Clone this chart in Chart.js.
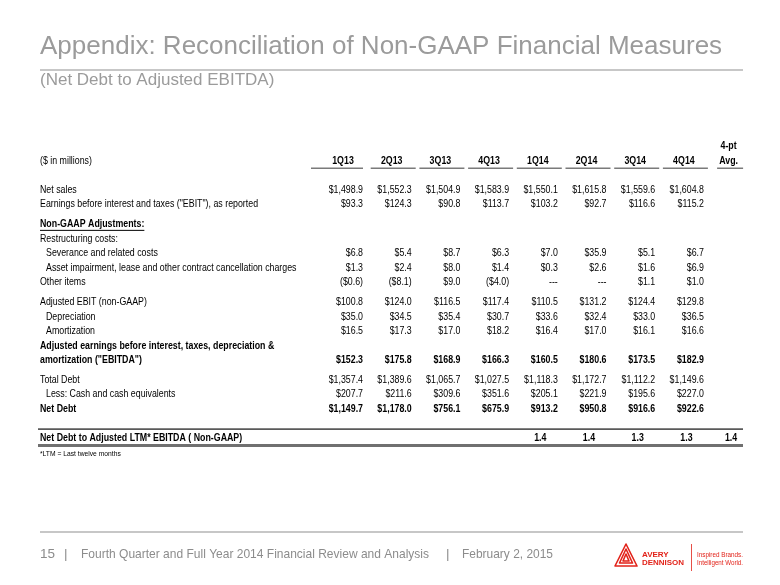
<!DOCTYPE html>
<html><head><meta charset="utf-8">
<script src="https://cdn.jsdelivr.net/npm/chart.js@4.4.1/dist/chart.umd.min.js"></script>
<style>html,body{margin:0;padding:0;background:#fff;}canvas{display:block;}</style>
</head><body>
<canvas id="c" width="780" height="585"></canvas>
<script>
// ---- data ----
const quarters = ['1Q13','2Q13','3Q13','4Q13','1Q14','2Q14','3Q14','4Q14'];
const avgLabel = '4-pt Avg.';
const netSales = [1498.9,1552.3,1504.9,1583.9,1550.1,1615.8,1559.6,1604.8];
const ebitReported = [93.3,124.3,90.8,113.7,103.2,92.7,116.6,115.2];
const severance = [6.8,5.4,8.7,6.3,7.0,35.9,5.1,6.7];
const assetImpairment = [1.3,2.4,8.0,1.4,0.3,2.6,1.6,6.9];
const otherItems = [-0.6,-8.1,9.0,-4.0,null,null,1.1,1.0];
const adjustedEbit = [100.8,124.0,116.5,117.4,110.5,131.2,124.4,129.8];
const depreciation = [35.0,34.5,35.4,30.7,33.6,32.4,33.0,36.5];
const amortization = [16.5,17.3,17.0,18.2,16.4,17.0,16.1,16.6];
const adjustedEbitda = [152.3,175.8,168.9,166.3,160.5,180.6,173.5,182.9];
const totalDebt = [1357.4,1389.6,1065.7,1027.5,1118.3,1172.7,1112.2,1149.6];
const cashEquivalents = [207.7,211.6,309.6,351.6,205.1,221.9,195.6,227.0];
const netDebt = [1149.7,1178.0,756.1,675.9,913.2,950.8,916.6,922.6];
const netDebtToEbitda = [null,null,null,null,1.4,1.4,1.3,1.3];
const netDebtToEbitdaAvg = 1.4;

// ---- table structure ----
const sections = [
  [ {label:'Net sales', values:netSales},
    {label:'Earnings before interest and taxes ("EBIT"), as reported', values:ebitReported} ],
  [ {label:'Non-GAAP Adjustments:', bold:true, underline:true},
    {label:'Restructuring costs:'},
    {label:'Severance and related costs', indent:true, values:severance},
    {label:'Asset impairment, lease and other contract cancellation charges', indent:true, values:assetImpairment},
    {label:'Other items', values:otherItems} ],
  [ {label:'Adjusted EBIT (non-GAAP)', values:adjustedEbit},
    {label:'Depreciation', indent:true, values:depreciation},
    {label:'Amortization', indent:true, values:amortization},
    {label:'Adjusted earnings before interest, taxes, depreciation &', bold:true},
    {label:'amortization ("EBITDA")', bold:true, values:adjustedEbitda} ],
  [ {label:'Total Debt', values:totalDebt},
    {label:'Less: Cash and cash equivalents', indent:true, values:cashEquivalents},
    {label:'Net Debt', bold:true, values:netDebt} ]
];
const GAP = 0.37;
const rows = [];
let idx = 0;
sections.forEach((sec, si) => sec.forEach(r => { r.y = idx + si * GAP; idx++; rows.push(r); }));
const ratioRow = {label:'Net Debt to Adjusted LTM* EBITDA ( Non-GAAP)', bold:true, ratio:true,
                  values:netDebtToEbitda, y: rows[rows.length-1].y + 2};
rows.push(ratioRow);

function fmtMoney(v){
  if (v === null) return '---';
  const s = '$' + Math.abs(v).toLocaleString('en-US',{minimumFractionDigits:1,maximumFractionDigits:1});
  return v < 0 ? '(' + s + ')' : s;
}
function fmtRatio(v){ return v.toFixed(1); }

const datasets = quarters.map((q, qi) => ({
  label: q,
  data: rows.filter(r => r.values && !(r.ratio && r.values[qi] === null)).map(r => ({
    x: q, y: r.y,
    text: r.ratio ? fmtRatio(r.values[qi]) : fmtMoney(r.values[qi]),
    bold: !!r.bold, ratio: !!r.ratio
  })),
  showLine:false, pointRadius:0
}));
datasets.push({label:avgLabel, data:[{x:avgLabel, y:ratioRow.y, text:fmtRatio(netDebtToEbitdaAvg), bold:true, ratio:true, avg:true}], showLine:false, pointRadius:0});

// ---- drawing helpers ----
const FAM = '"Liberation Sans", Arial, Helvetica, sans-serif';
const SX = 0.84;
function txt(ctx, s, x, y, align, bold, size, sx, color){
  ctx.save();
  ctx.font = (bold ? 'bold ' : '') + size + 'px ' + FAM;
  ctx.fillStyle = color || '#000';
  ctx.textBaseline = 'middle';
  ctx.textAlign = align;
  ctx.translate(x, y);
  ctx.scale(sx, 1);
  ctx.fillText(s, 0, 0);
  const w = ctx.measureText(s).width * sx;
  ctx.restore();
  return w;
}
function hline(ctx, x1, x2, y, w, color){
  ctx.save(); ctx.strokeStyle = color; ctx.lineWidth = w;
  ctx.beginPath(); ctx.moveTo(x1, y); ctx.lineTo(x2, y); ctx.stroke(); ctx.restore();
}

const tablePlugin = {
  id:'tablePlugin',
  beforeDraw(chart){
    const ctx = chart.ctx;
    ctx.save(); ctx.fillStyle = '#fff'; ctx.fillRect(0,0,chart.width,chart.height); ctx.restore();
  },
  afterDatasetsDraw(chart){
    const ctx = chart.ctx, xs = chart.scales.x, ys = chart.scales.y;
    const L = 40, R = 743;
    // title block
    ctx.save();
    ctx.font = '26px ' + FAM; ctx.fillStyle = '#9b9b9b'; ctx.textBaseline = 'alphabetic';
    ctx.fillText('Appendix: Reconciliation of Non-GAAP Financial Measures', L, 54, 686);
    ctx.font = '17px ' + FAM;
    ctx.fillText('(Net Debt to Adjusted EBITDA)', L, 85, 240);
    ctx.restore();
    hline(ctx, L, R, 70, 1.5, '#b4b4b4');

    // header row
    const yH = ys.getPixelForValue(-2), yH2 = ys.getPixelForValue(-3), yU = ys.getPixelForValue(-1.5);
    txt(ctx, '($ in millions)', L, yH, 'left', false, 10.5, SX);
    quarters.forEach((q, i) => {
      const x = xs.getPixelForValue(i);
      txt(ctx, q, x + 2, yH, 'center', true, 10.5, SX);
      hline(ctx, x - (i === 0 ? 30 : 19), x + (i === 0 ? 22 : 26), yU, 1.5, '#7a7a7a');
    });
    const xa = xs.getPixelForValue(quarters.length);
    const parts = avgLabel.split(' ');
    txt(ctx, parts[0], xa - 2, yH2, 'center', true, 10.5, SX);
    txt(ctx, parts[1], xa - 2, yH, 'center', true, 10.5, SX);
    hline(ctx, xa - 13.5, xa + 12.5, yU, 1.5, '#7a7a7a');

    // row labels
    rows.forEach(r => {
      const y = ys.getPixelForValue(r.y);
      const x = L + (r.indent ? 6 : 0);
      const w = txt(ctx, r.label, x, y, 'left', r.bold, 10.5, SX);
      if (r.underline) hline(ctx, x, x + w, y + 6, 1, '#000');
    });
    // ratio rules
    const yr = ys.getPixelForValue(ratioRow.y);
    hline(ctx, L - 2, R, yr - 9, 1.8, '#5a5a5a');
    hline(ctx, L - 2, R, yr + 7.5, 3, '#707070');
    txt(ctx, '*LTM = Last twelve months', L, ys.getPixelForValue(ratioRow.y + 1.05), 'left', false, 8, SX);

    // values from dataset points
    chart.data.datasets.forEach((ds, di) => {
      const meta = chart.getDatasetMeta(di);
      meta.data.forEach((el, j) => {
        const p = ds.data[j];
        if (p.ratio) txt(ctx, p.text, el.x + (p.avg ? 0.5 : 4.5), el.y, 'center', true, 10.5, SX);
        else txt(ctx, p.text, el.x + 22, el.y, 'right', p.bold, 10.5, SX);
      });
    });

    // footer
    hline(ctx, L, R, 532, 1.5, '#b4b4b4');
    ctx.save();
    ctx.font = '13.5px ' + FAM; ctx.fillStyle = '#8c8c8c'; ctx.textBaseline = 'middle';
    const fy = 554;
    ctx.fillText('15', L, fy);
    ctx.fillText('|', 64, fy);
    ctx.fillText('Fourth Quarter and Full Year 2014 Financial Review and Analysis', 81, fy, 348);
    ctx.fillText('|', 446, fy);
    ctx.fillText('February 2, 2015', 462, fy, 91);
    ctx.restore();

    // logo
    ctx.save();
    const red = '#e2231a';
    ctx.strokeStyle = red; ctx.lineWidth = 1.6; ctx.lineJoin = 'round';
    const tri = (cx, top, h, w) => { ctx.beginPath(); ctx.moveTo(cx, top); ctx.lineTo(cx + w/2, top + h); ctx.lineTo(cx - w/2, top + h); ctx.closePath(); ctx.stroke(); };
    tri(626, 544, 22, 22);
    tri(626, 549, 14, 13);
    tri(626, 554, 7, 6);
    ctx.fillStyle = red; ctx.textBaseline = 'middle';
    ctx.font = 'bold 8px ' + FAM;
    ctx.fillText('AVERY', 642, 555, 27);
    ctx.fillText('DENNISON', 642, 563, 42);
    ctx.fillRect(691, 544, 0.8, 27);
    ctx.font = '7.5px ' + FAM;
    ctx.fillText('Inspired Brands.', 697, 555, 46);
    ctx.fillText('Intelligent World.', 697, 563, 46);
    ctx.restore();
  }
};

new Chart(document.getElementById('c'), {
  type:'line',
  data:{ labels:[...quarters, avgLabel], datasets },
  options:{
    responsive:false, animation:false, devicePixelRatio:1,
    layout:{ padding:{ left:341, right:49.4, top:132, bottom:134 } },
    plugins:{ legend:{display:false}, tooltip:{enabled:false} },
    scales:{
      x:{ type:'category', offset:false, display:false },
      y:{ type:'linear', reverse:true, min:-4, max:18, display:false }
    }
  },
  plugins:[tablePlugin]
});
</script>
</body></html>
